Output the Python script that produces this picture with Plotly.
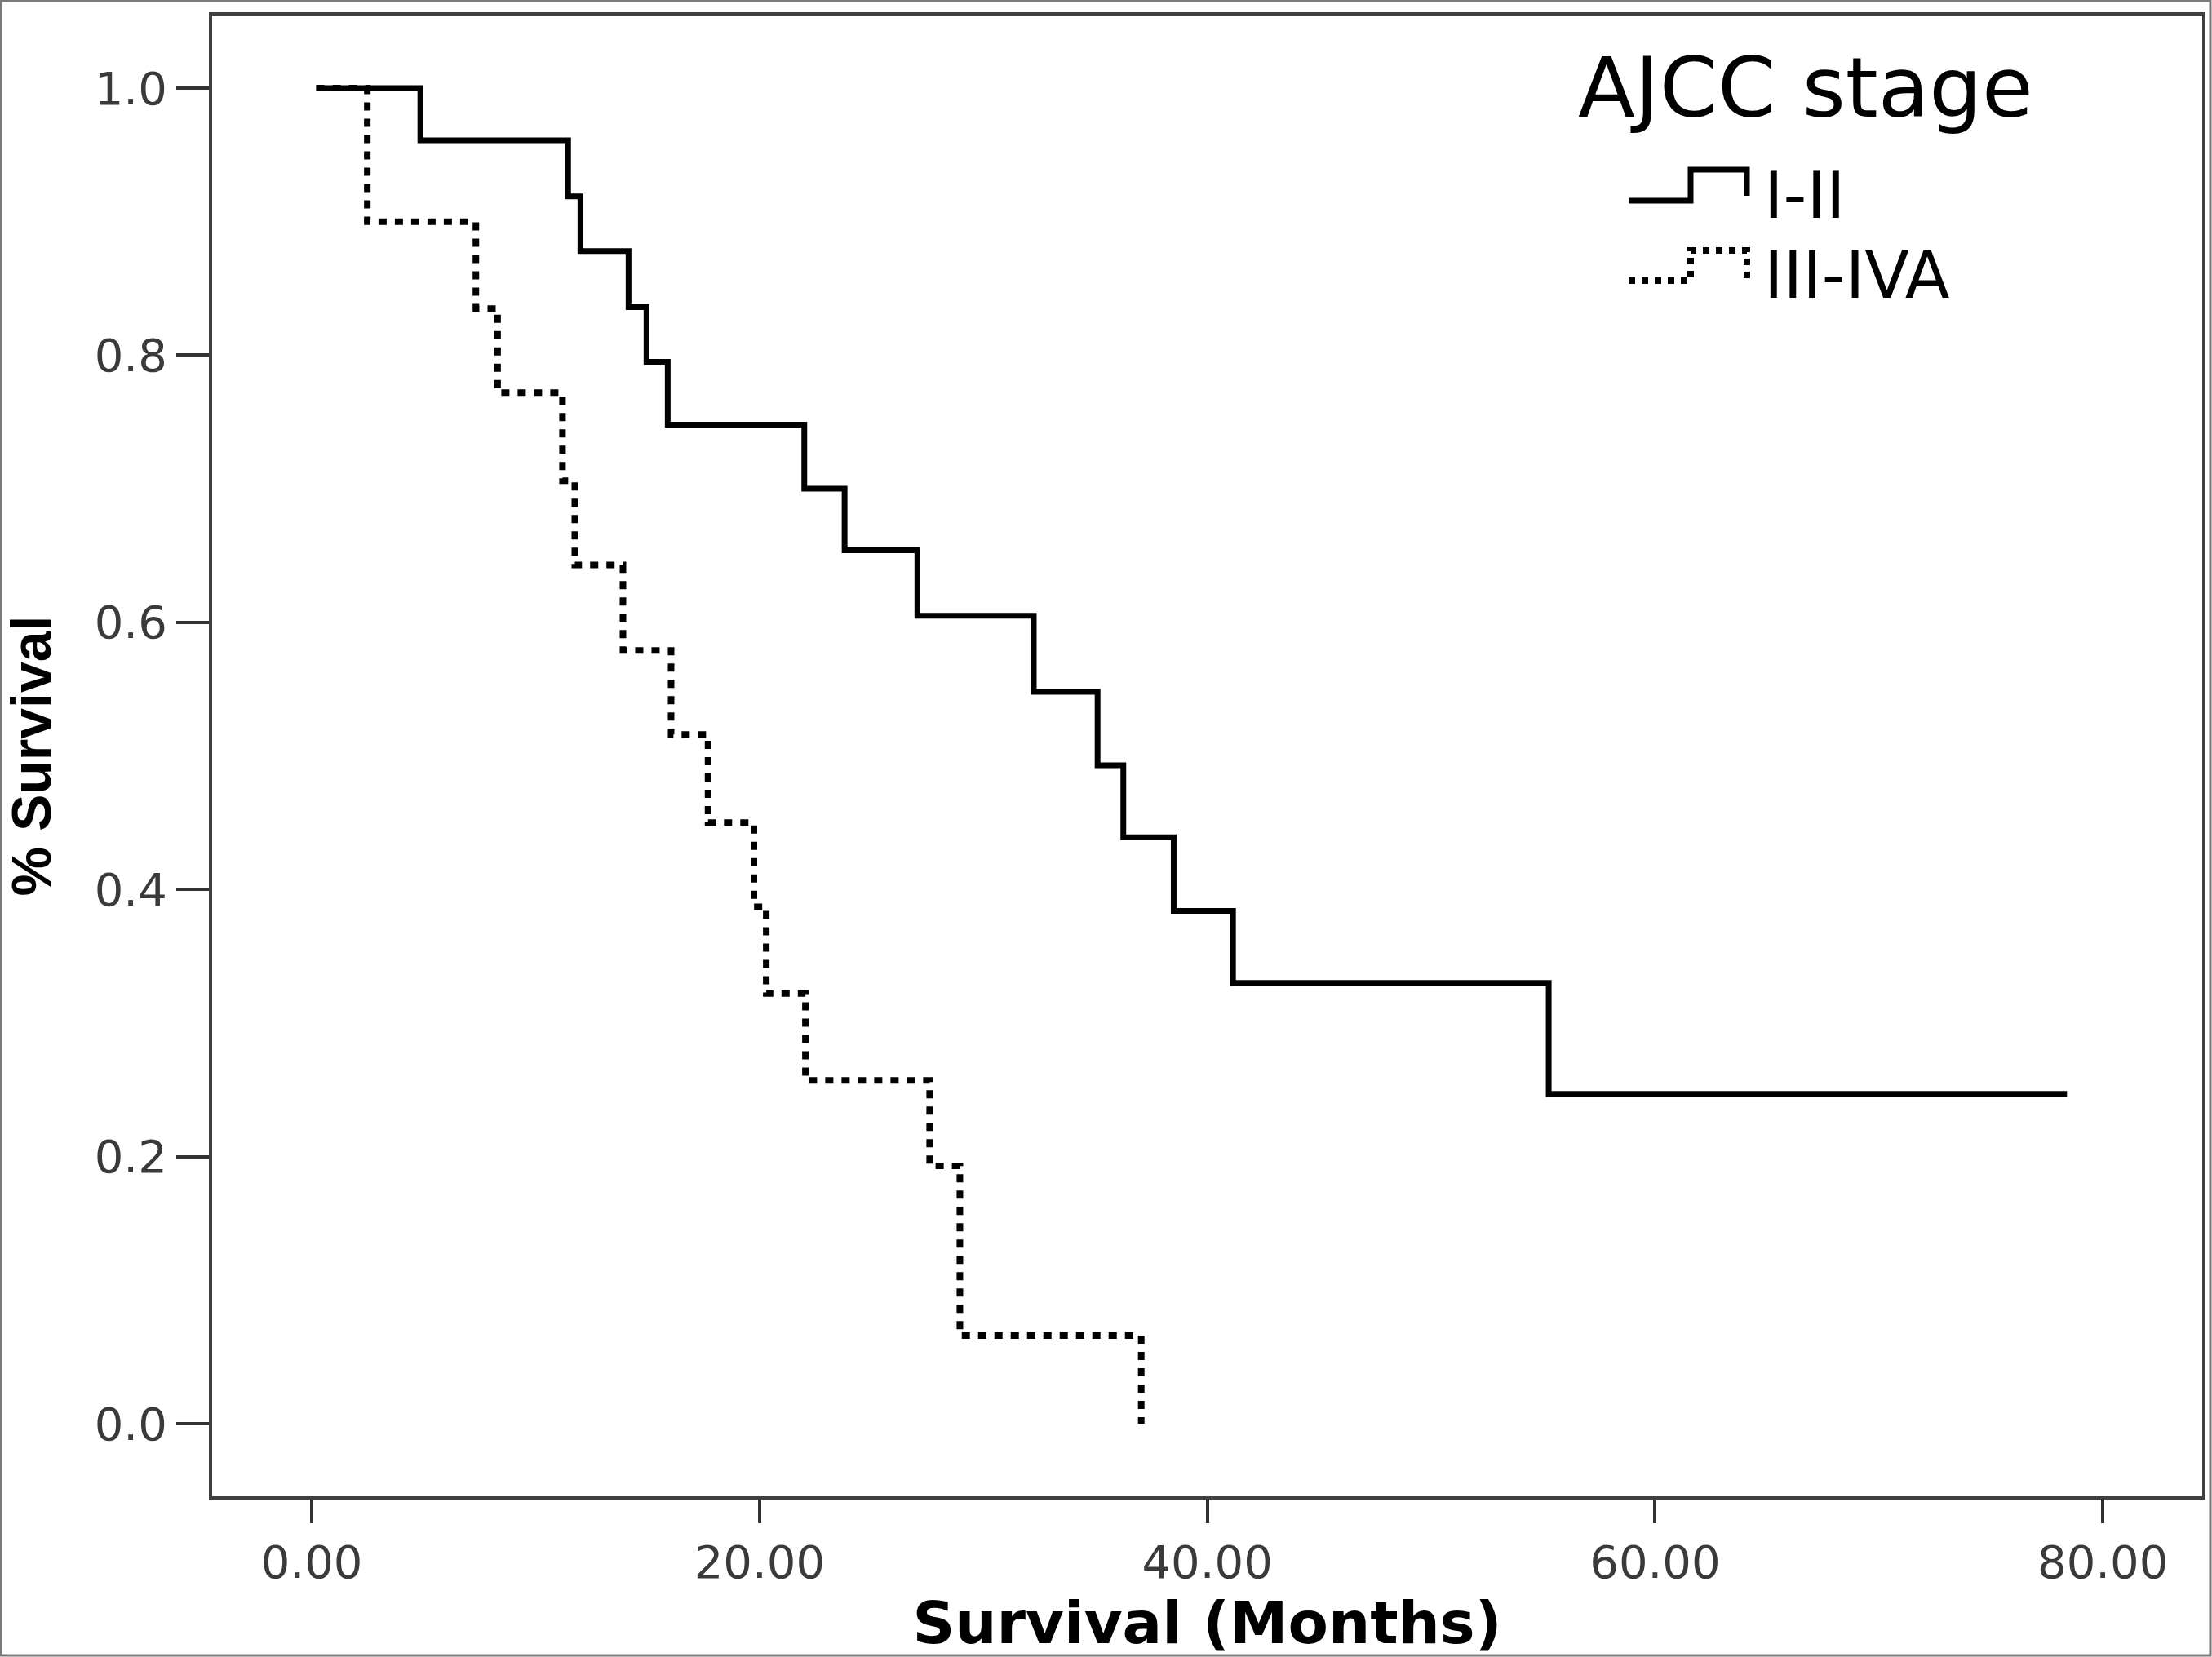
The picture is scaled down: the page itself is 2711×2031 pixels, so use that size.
import plotly.graph_objects as go

# ---- data ----
months_I_II = [0.2, 4.85, 11.45, 12.0, 14.15, 14.95, 15.9, 22.0, 23.8, 27.05, 32.25, 35.1, 36.25, 38.5, 41.15, 55.25, 78.4]
surv_I_II = [1.0, 0.961, 0.919, 0.878, 0.836, 0.795, 0.748, 0.70, 0.654, 0.605, 0.548, 0.493, 0.439, 0.384, 0.33, 0.247, 0.247]

months_III_IVA = [0.2, 2.48, 7.33, 8.3, 11.2, 11.75, 13.9, 16.05, 17.7, 19.75, 20.3, 22.05, 27.6, 28.95, 37.05]
surv_III_IVA = [1.0, 0.90, 0.835, 0.772, 0.706, 0.643, 0.579, 0.516, 0.45, 0.387, 0.322, 0.257, 0.193, 0.066, 0.0]

x_tick_vals = [0, 20, 40, 60, 80]
x_tick_text = ["0.00", "20.00", "40.00", "60.00", "80.00"]
y_tick_vals = [0.0, 0.2, 0.4, 0.6, 0.8, 1.0]
y_tick_text = ["0.0", "0.2", "0.4", "0.6", "0.8", "1.0"]

legend_title = "AJCC stage"
group_names = ["I-II", "III-IVA"]

# ---- layout geometry (pixels) ----
W, H = 2711, 2031
ML, MR, MT, MB = 260, 12, 19, 197
PW, PH = W - ML - MR, H - MT - MB


def px_x(p):
    return (p - ML) / PW


def px_y(p):
    return (H - MB - p) / PH


fig = go.Figure()
fig.add_trace(go.Scatter(
    x=months_III_IVA, y=surv_III_IVA, name=group_names[1], mode="lines",
    line=dict(color="black", width=8, dash="10px,10px", shape="hv"),
    showlegend=False))
fig.add_trace(go.Scatter(
    x=months_I_II, y=surv_I_II, name=group_names[0], mode="lines",
    line=dict(color="black", width=7, shape="hv"),
    showlegend=False))

tickfont = dict(family="DejaVu Sans", size=56, color="#3a3a3a")
fig.update_xaxes(
    range=[-4.45, 84.44], tickvals=x_tick_vals, ticktext=x_tick_text,
    ticks="outside", ticklen=29, tickwidth=4, tickcolor="#333333",
    showline=True, linecolor="#404040", linewidth=4, mirror=True,
    showgrid=False, zeroline=False, tickfont=tickfont,
    title=dict(text="Survival (Months)", standoff=42,
               font=dict(family="DejaVu Sans", size=72, color="black", weight="bold")))
fig.update_yaxes(
    range=[-0.0544, 1.0544], tickvals=y_tick_vals, ticktext=y_tick_text,
    ticks="outside", ticklen=40, tickwidth=4, tickcolor="#333333",
    showline=True, linecolor="#404040", linewidth=4, mirror=True,
    showgrid=False, zeroline=False, tickfont=tickfont,
    title=dict(text="% Survival", standoff=36,
               font=dict(family="Liberation Sans", size=68, color="black", weight="bold")))

# custom legend (step-shaped keys like the reference)
shapes = [
    dict(type="path", xref="paper", yref="paper",
         path="M {},{} L {},{} L {},{} L {},{} L {},{}".format(
             px_x(1996), px_y(246), px_x(2072), px_y(246), px_x(2072), px_y(208),
             px_x(2141), px_y(208), px_x(2141), px_y(240)),
         line=dict(color="black", width=7)),
    dict(type="path", xref="paper", yref="paper",
         path="M {},{} L {},{} L {},{} L {},{} L {},{}".format(
             px_x(1996), px_y(344), px_x(2072), px_y(344), px_x(2072), px_y(307),
             px_x(2141), px_y(307), px_x(2141), px_y(343)),
         line=dict(color="black", width=8, dash="dot")),
    # outer image border
    dict(type="rect", xref="paper", yref="paper",
         x0=px_x(1), x1=px_x(W - 2), y0=px_y(H - 2), y1=px_y(1),
         line=dict(color="#7a7a7a", width=3), fillcolor="rgba(0,0,0,0)", layer="below"),
]

annotations = [
    dict(text=legend_title, xref="paper", yref="paper", x=px_x(1932), y=px_y(108),
         xanchor="left", yanchor="middle", showarrow=False,
         font=dict(family="DejaVu Sans", size=102, color="black")),
    dict(text=group_names[0], xref="paper", yref="paper", x=px_x(2160), y=px_y(240),
         xanchor="left", yanchor="middle", showarrow=False,
         font=dict(family="DejaVu Sans", size=80, color="black")),
    dict(text=group_names[1], xref="paper", yref="paper", x=px_x(2160), y=px_y(337),
         xanchor="left", yanchor="middle", showarrow=False,
         font=dict(family="DejaVu Sans", size=80, color="black")),
]

fig.update_layout(
    width=W, height=H,
    margin=dict(l=ML, r=MR, t=MT, b=MB, autoexpand=False),
    paper_bgcolor="white", plot_bgcolor="white",
    shapes=shapes, annotations=annotations,
    showlegend=False,
)

fig.write_html("out.html")
